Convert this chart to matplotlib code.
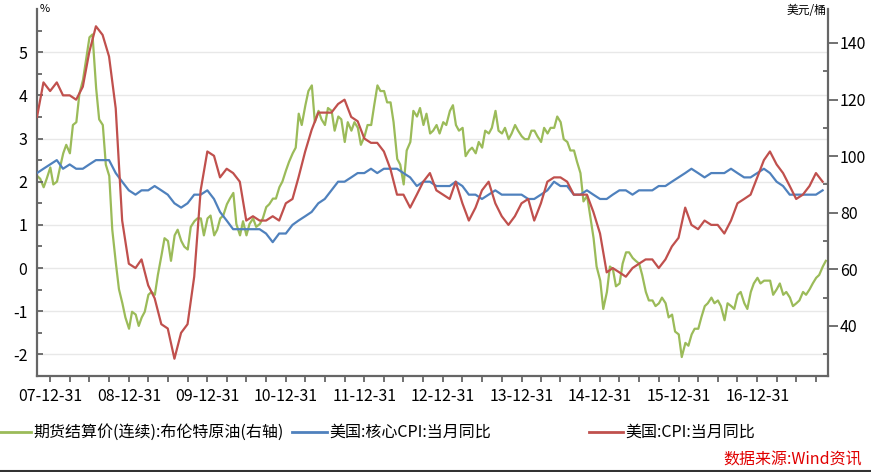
import matplotlib
matplotlib.use('Agg')
import matplotlib.pyplot as plt
import matplotlib.dates as mdates
from matplotlib.lines import Line2D
import pandas as pd

plt.rcParams['font.family'] = ['Noto Sans CJK SC', 'DejaVu Sans']
plt.rcParams['axes.unicode_minus'] = False

# monthly US CPI yoy, Oct 2007 .. Oct 2017
cpi = [3.5, 4.3, 4.1,
       4.3, 4.0, 4.0, 3.9, 4.2, 5.0, 5.6, 5.4, 4.9, 3.7, 1.1, 0.1,
       0.0, 0.2, -0.4, -0.7, -1.3, -1.4, -2.1, -1.5, -1.3, -0.2, 1.8, 2.7,
       2.6, 2.1, 2.3, 2.2, 2.0, 1.1, 1.2, 1.1, 1.1, 1.2, 1.1, 1.5,
       1.6, 2.1, 2.7, 3.2, 3.6, 3.6, 3.6, 3.8, 3.9, 3.5, 3.4, 3.0,
       2.9, 2.9, 2.7, 2.3, 1.7, 1.7, 1.4, 1.7, 2.0, 2.2, 1.8, 1.7,
       1.6, 2.0, 1.5, 1.1, 1.4, 1.8, 2.0, 1.5, 1.2, 1.0, 1.2, 1.5,
       1.6, 1.1, 1.5, 2.0, 2.1, 2.1, 2.0, 1.7, 1.7, 1.7, 1.3, 0.8,
       -0.1, 0.0, -0.1, -0.2, 0.0, 0.1, 0.2, 0.2, 0.0, 0.2, 0.5, 0.7,
       1.4, 1.0, 0.9, 1.1, 1.0, 1.0, 0.8, 1.1, 1.5, 1.6, 1.7, 2.1,
       2.5, 2.7, 2.4, 2.2, 1.9, 1.6, 1.7, 1.9, 2.2, 2.0]

core_cpi = [2.2, 2.3, 2.4,
            2.5, 2.3, 2.4, 2.3, 2.3, 2.4, 2.5, 2.5, 2.5, 2.2, 2.0, 1.8,
            1.7, 1.8, 1.8, 1.9, 1.8, 1.7, 1.5, 1.4, 1.5, 1.7, 1.7, 1.8,
            1.6, 1.3, 1.1, 0.9, 0.9, 0.9, 0.9, 0.9, 0.8, 0.6, 0.8, 0.8,
            1.0, 1.1, 1.2, 1.3, 1.5, 1.6, 1.8, 2.0, 2.0, 2.1, 2.2, 2.2,
            2.3, 2.2, 2.3, 2.3, 2.3, 2.2, 2.1, 1.9, 2.0, 2.0, 1.9, 1.9,
            1.9, 2.0, 1.9, 1.7, 1.7, 1.6, 1.7, 1.8, 1.7, 1.7, 1.7, 1.7,
            1.6, 1.6, 1.7, 1.8, 2.0, 1.9, 1.9, 1.7, 1.7, 1.8, 1.7, 1.6,
            1.6, 1.7, 1.8, 1.8, 1.7, 1.8, 1.8, 1.8, 1.9, 1.9, 2.0, 2.1,
            2.2, 2.3, 2.2, 2.1, 2.2, 2.2, 2.2, 2.3, 2.2, 2.1, 2.1, 2.2,
            2.3, 2.2, 2.0, 1.9, 1.7, 1.7, 1.7, 1.7, 1.7, 1.8]

# Brent settlement, 1st and 15th of each month, Nov 2007 .. Nov 2017
brent = [93, 92, 89, 92,
         96, 90, 91, 96, 101, 104, 101, 111, 112, 122, 127, 134,
         142, 143, 124, 113, 111, 97, 93, 74, 62, 53, 48, 43,
         39, 45, 44, 40, 43, 45, 51, 52, 51, 58, 65, 71,
         70, 63, 72, 74, 70, 68, 67, 75, 77, 78, 78, 72,
         78, 79, 72, 74, 78, 79, 83, 85, 87, 76, 72, 77,
         72, 76, 78, 75, 76, 78, 82, 83, 85, 85, 89, 91,
         95, 98, 101, 103, 115, 111, 118, 123, 125, 112, 116, 113,
         111, 117, 116, 109, 114, 113, 105, 112, 109, 112, 110, 104,
         107, 111, 111, 118, 125, 123, 123, 119, 119, 112, 99, 97,
         90, 102, 105, 116, 114, 117, 111, 115, 108, 109, 111, 108,
         112, 111, 116, 118, 111, 109, 110, 100, 102, 103, 101, 105,
         103, 109, 108, 110, 116, 109, 108, 110, 106, 108, 111, 109,
         107, 106, 106, 109, 109, 107, 105, 110, 108, 110, 110, 114,
         112, 106, 105, 102, 102, 98, 94, 84, 86, 79, 71, 61,
         56, 46, 52, 61, 60, 54, 55, 62, 66, 66, 64, 63,
         62, 58, 52, 49, 49, 47, 48, 50, 48, 43, 44, 38,
         37, 29, 34, 33, 37, 39, 39, 43, 47, 48, 50, 48,
         49, 47, 42, 48, 47, 46, 51, 52, 48, 46, 52, 55,
         57, 55, 56, 56, 56, 51, 53, 55, 51, 52, 50, 47,
         48, 49, 52, 51, 53, 55, 57, 58, 61, 63]

cpi_dates = pd.date_range('2007-10-31', periods=len(cpi), freq='ME')
brent_dates = pd.date_range('2007-11-01', periods=len(brent), freq='SMS')

GREEN = '#9BBB59'
BLUE = '#4F81BD'
RED = '#C0504D'
SPINE = '#666666'
W, H = 871, 472

fig = plt.figure(figsize=(W / 100, H / 100), dpi=100)
ax = fig.add_axes([37 / W, 1 - 376 / H, (828 - 37) / W, (376 - 9) / H])
ax2 = ax.twinx()
ax.set_zorder(ax2.get_zorder() + 1)
ax.patch.set_visible(False)

ylo, yhi = -2.5, 6
ax.set_ylim(ylo, yhi)
ax2.set_ylim(22.3, 152)
ax.set_xlim(pd.Timestamp('2007-10-31'), pd.Timestamp('2017-11-25'))

# grid lines behind every series
for v in range(-2, 6):
    f = (v - ylo) / (yhi - ylo)
    ax2.plot([0, 1], [f, f], transform=ax2.transAxes, color='#e8e8e8', lw=1, zorder=0)

ax2.plot(brent_dates, brent, color=GREEN, lw=1.6, zorder=2)
ax.plot(cpi_dates, core_cpi, color=BLUE, lw=1.6, zorder=3)
ax.plot(cpi_dates, cpi, color=RED, lw=1.6, zorder=4)

# spines
for s in ['top', 'right']:
    ax.spines[s].set_visible(False)
for s in ['top', 'left', 'bottom']:
    ax2.spines[s].set_visible(False)
for s in ['left', 'bottom']:
    ax.spines[s].set_color(SPINE)
    ax.spines[s].set_linewidth(1.6)
ax2.spines['right'].set_color(SPINE)
ax2.spines['right'].set_linewidth(1.6)

# left axis ticks
ax.set_yticks(range(-2, 6))
ax.set_yticks([v + 0.5 for v in range(-3, 6)], minor=True)
ax.tick_params(axis='y', which='major', direction='in', length=4.5, width=1.3,
               color=SPINE, labelsize=11.5, pad=7)
ax.tick_params(axis='y', which='minor', direction='in', length=3.5, width=1.3, color=SPINE)

# right axis ticks
ax2.set_yticks(range(40, 150, 20))
ax2.set_yticks(range(30, 150, 20), minor=True)
ax2.tick_params(axis='y', which='major', direction='out', length=7, width=1.3,
                color=SPINE, labelsize=11.5, pad=1.5)
ax2.tick_params(axis='y', which='minor', direction='in', length=3.5, width=1.3, color=SPINE)

# x ticks: yearly labels at Dec 31, quarterly minor ticks
year_ends = [pd.Timestamp(y, 12, 31) for y in range(2007, 2017)]
quarter_ends = [pd.Timestamp(y, m, 1) + pd.offsets.MonthEnd(0)
                for y in range(2008, 2018) for m in (3, 6, 9)]
ax.set_xticks(year_ends)
ax.set_xticks(quarter_ends, minor=True)
ax.xaxis.set_major_formatter(mdates.DateFormatter('%y-%m-%d'))
ax.tick_params(axis='x', which='major', direction='out', length=4.5, width=1.3,
               color=SPINE, labelsize=11.5, pad=4)
ax.tick_params(axis='x', which='minor', direction='out', length=4, width=1.3, color=SPINE)

# unit labels
fig.text(40 / W, 1 - 9 / H, '%', fontsize=8, va='center', ha='left')
fig.text(826 / W, 1 - 10 / H, '美元/桶', fontsize=8.5, va='center', ha='right')

# legend drawn by hand to keep the uneven spacing
ly = 1 - 432 / H
entries = [(0, 31, GREEN, '期货结算价(连续):布伦特原油(右轴)'),
           (292, 327, BLUE, '美国:核心CPI:当月同比'),
           (589, 623, RED, '美国:CPI:当月同比')]
for x0, x1, c, label in entries:
    fig.add_artist(Line2D([x0 / W, x1 / W], [ly, ly], transform=fig.transFigure,
                          color=c, lw=2))
    fig.text((x1 + 2) / W, ly, label, fontsize=11.5, va='center', ha='left')

fig.text(862 / W, 1 - 460 / H, '数据来源:Wind资讯', fontsize=11.5, color='#E00000',
         style='italic', va='center', ha='right')
fig.add_artist(Line2D([0, 1], [0.003, 0.003], transform=fig.transFigure,
                      color='#333333', lw=1.5))

fig.savefig('out.png', dpi=100)
